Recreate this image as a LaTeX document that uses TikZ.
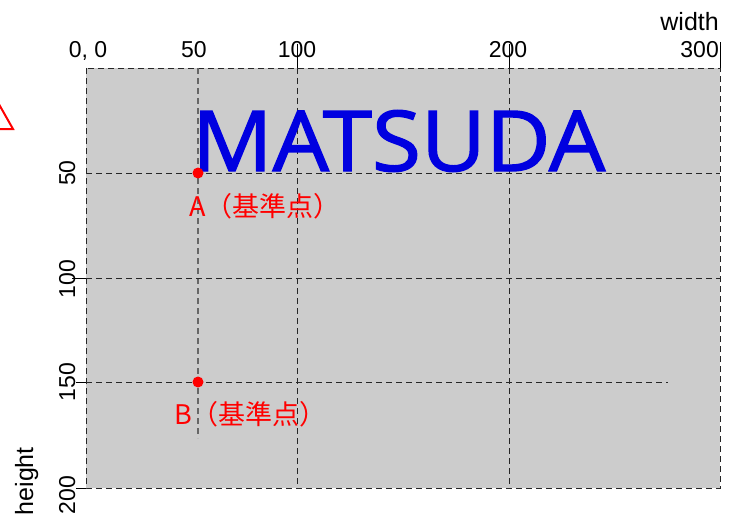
\documentclass[tikz,border=0pt]{standalone}
\usepackage{fontspec}
\setmainfont{Liberation Sans}
\newfontfamily\cjk{Noto Sans CJK JP}
\newfontfamily\logofont[FakeBold=1.6]{Open Sans}
\definecolor{panel}{HTML}{CCCCCC}
\definecolor{logoblue}{HTML}{0000E0}
\definecolor{ptred}{HTML}{FF0000}
\begin{document}
\begin{tikzpicture}[x=1pt,y=-1pt,
  grid/.style={draw=black!85,line width=0.9pt,dash pattern=on 6pt off 4pt},
  gridgray/.style={draw=black!60,line width=1.2pt,dash pattern=on 6pt off 4pt},
  tick/.style={draw=black,line width=0.8pt},
  axlbl/.style={font=\fontsize{23}{25}\selectfont,inner sep=0pt},
  axname/.style={font=\fontsize{25}{27}\selectfont,inner sep=0pt},
  ptdot/.style={circle,fill=ptred,inner sep=0pt,minimum size=11pt},
  ptlbl/.style={font=\cjk\fontsize{27}{29}\selectfont,text=ptred,inner sep=0pt,anchor=base west}]
\useasboundingbox (0,0) rectangle (730,516);
% panel
\fill[panel] (86,68) rectangle (720,488);
\draw[grid] (86,68) rectangle (720,488);
% grid lines
\draw[gridgray] (198,68) -- (198,438);
\draw[grid] (297,68) -- (297,488);
\draw[grid] (509,68) -- (509,488);
\draw[grid] (86,173) -- (720,173);
\draw[grid] (86,278) -- (720,278);
\draw[grid] (86,382) -- (668,382);
% ticks
\draw[tick] (297,44) -- (297,68);
\draw[tick] (509,44) -- (509,68);
\draw[tick] (720,42) -- (720,68);
\draw[tick] (72,278) -- (86,278);
\draw[tick] (76,382) -- (86,382);
\draw[tick] (76,488) -- (86,488);
% logo text
\node[font=\logofont\fontsize{84}{90}\selectfont,text=logoblue,anchor=base west,inner sep=0pt,xscale=1.06] (logo) at (192,171) {MATSUDA};
% points
\node[ptdot] (A) at (198,173) {};
\node[ptdot] (B) at (198,382) {};
\node[ptlbl] (Alabel) at (189,216) {A（基準点）};
\node[ptlbl] (Blabel) at (174,424) {B（基準点）};
% top axis labels
\node[axlbl,anchor=base] (x0) at (88,58) {0, 0};
\node[axlbl,anchor=base] (x50) at (194,58) {50};
\node[axlbl,anchor=base] (x100) at (297,58) {100};
\node[axlbl,anchor=base] (x200) at (508,58) {200};
\node[axlbl,anchor=base east] (x300) at (719,58) {300};
\node[axname,anchor=base east] (wname) at (719,31) {width};
% left axis labels (rotated)
\node[axlbl,anchor=base,rotate=90] (y50) at (75,173) {50};
\node[axlbl,anchor=base,rotate=90] (y100) at (75,279) {100};
\node[axlbl,anchor=base,rotate=90] (y150) at (75,382) {150};
\node[axlbl,anchor=base,rotate=90] (y200) at (75,495) {200};
\node[axname,anchor=base east,rotate=90] (hname) at (33,447) {height};
% red triangle (partly off the left edge)
\draw[ptred,line width=2pt,line join=miter] (-4,99) -- (13,129) -- (-6,129);
\end{tikzpicture}
\end{document}
